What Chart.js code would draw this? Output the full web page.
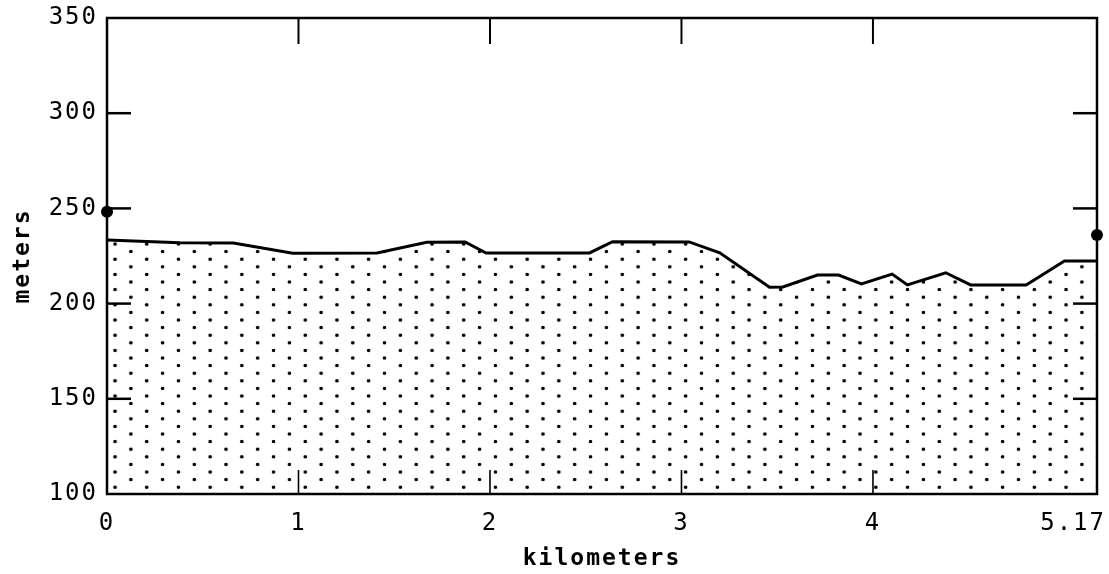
<!DOCTYPE html>
<html><head><meta charset="utf-8">
<script src="https://cdn.jsdelivr.net/npm/chart.js@4/dist/chart.umd.min.js"></script>
<style>html,body{margin:0;padding:0;background:#fff;}#wrap{width:1109px;height:574px;position:relative;background:#fff}</style>
</head><body><div id="wrap"><canvas id="c" width="1109" height="574"></canvas></div>
<script>
// ---- data ----
const profileKm = [0, 0.38, 0.66, 0.97, 1.41, 1.67, 1.87, 1.98, 2.52, 2.64, 3.04, 3.20, 3.46, 3.53, 3.71, 3.82, 3.94, 4.10, 4.18, 4.38, 4.51, 4.80, 5.00, 5.17];
const profileM  = [233.4, 232.0, 231.8, 226.4, 226.6, 232.2, 232.4, 226.6, 226.6, 232.5, 232.4, 226.7, 208.6, 208.7, 215.0, 215.0, 210.3, 215.5, 209.8, 216.2, 209.8, 209.8, 222.4, 222.4];
const markerKm = [0, 5.17];
const markerM  = [248.3, 236.0];
const xTickValues = [0, 1, 2, 3, 4, 5.17];
const yTickValues = [100, 150, 200, 250, 300, 350];
const innerXTicks = [1, 2, 3, 4];
const innerYTicks = [150, 200, 250, 300];
const xTitle = 'kilometers';
const yTitle = 'meters';

const canvas = document.getElementById('c');
const ctx = canvas.getContext('2d');

function makeStipple(c2d){
  const tw = 40, th = 20;
  const t = document.createElement('canvas'); t.width = tw; t.height = th;
  const g = t.getContext('2d'); g.fillStyle = '#000';
  [[10,5],[30,15]].forEach(([x,y]) => { g.beginPath(); g.arc(x, y, 2.3, 0, Math.PI*2); g.fill(); });
  const p = c2d.createPattern(t, 'repeat');
  p.setTransform(new DOMMatrix().translate(12, -3).scale(31.7/tw, 15.2/th));
  return p;
}
const stipple = makeStipple(ctx);

const spacingPlugin = {
  id: 'spacing',
  beforeDraw(chart){
    Object.values(chart.scales).forEach(s => {
      if (s._wrappedLS) return; s._wrappedLS = true;
      const dl = s.drawLabels.bind(s), dt = s.drawTitle.bind(s), cl = s._computeLabelItems.bind(s);
      s.drawLabels = function(a){ const c = this.ctx; c.save(); c.letterSpacing = '2px'; dl(a); c.restore(); };
      s.drawTitle = function(a){ const c = this.ctx; c.save(); c.letterSpacing = '2px'; dt(a); c.restore(); };
      if (s.axis === 'x') {
        s._computeLabelItems = function(a){
          const items = cl(a);
          const last = items[items.length - 1];
          if (last) { last.options.textAlign = 'right'; last.options.translation[0] += 9; }
          return items;
        };
      }
    });
  }
};

const framePlugin = {
  id: 'frame',
  afterDraw(chart){
    const {left, right, top, bottom} = chart.chartArea;
    const c = chart.ctx;
    const xs = chart.scales.x, ys = chart.scales.y;
    c.save();
    c.strokeStyle = '#000';
    c.lineCap = 'butt';
    c.lineWidth = 2.5;
    c.strokeRect(left, top, right - left, bottom - top);
    const ln = (x1,y1,x2,y2,w) => { c.lineWidth = w; c.beginPath(); c.moveTo(x1,y1); c.lineTo(x2,y2); c.stroke(); };
    innerYTicks.forEach(v => { const y = ys.getPixelForValue(v); ln(left, y, left + 24, y, 2.5); ln(right, y, right - 24, y, 2.5); });
    innerXTicks.forEach(v => { const x = xs.getPixelForValue(v); ln(x, top, x, top + 26, 2); ln(x, bottom, x, bottom - 24, 1.6); });
    c.restore();
  }
};

const tickFont = {family: 'DejaVu Sans Mono', size: 24, weight: 'normal'};
const titleFont = {family: 'DejaVu Sans Mono', size: 23, weight: 'bold'};

new Chart(ctx, {
  type: 'line',
  data: {
    datasets: [
      {
        data: profileKm.map((x, i) => ({x, y: profileM[i]})),
        borderColor: '#000', borderWidth: 3, backgroundColor: stipple,
        fill: 'start', pointRadius: 0, tension: 0, order: 2
      },
      {
        data: markerKm.map((x, i) => ({x, y: markerM[i]})),
        showLine: false, pointRadius: 6, pointBackgroundColor: '#000', pointBorderColor: '#000',
        pointBorderWidth: 0, clip: false, order: 1
      }
    ]
  },
  options: {
    responsive: false, animation: false, devicePixelRatio: 1,
    layout: {padding: {left: 0, right: 12, top: 18, bottom: 0}},
    plugins: {legend: {display: false}, tooltip: {enabled: false}},
    scales: {
      x: {
        type: 'linear', min: 0, max: 5.17,
        afterBuildTicks: s => { s.ticks = xTickValues.map(v => ({value: v})); },
        afterFit: s => { s.height = 80; s.paddingLeft = 0; s.paddingRight = 0; },
        grid: {display: false}, border: {display: false},
        ticks: {font: tickFont, color: '#000', padding: 7, maxRotation: 0, autoSkip: false, callback: v => String(v)},
        title: {display: true, text: xTitle, color: '#000', font: titleFont, padding: {top: 0, bottom: 1}}
      },
      y: {
        type: 'linear', min: 100, max: 350,
        afterBuildTicks: s => { s.ticks = yTickValues.map(v => ({value: v})); },
        afterFit: s => { s.width = 107; s.paddingTop = 0; s.paddingBottom = 0; },
        grid: {display: false}, border: {display: false},
        ticks: {font: tickFont, color: '#000', padding: 1, callback: v => String(v)},
        title: {display: true, text: yTitle, color: '#000', font: titleFont, padding: {top: 9, bottom: 0}}
      }
    }
  },
  plugins: [spacingPlugin, framePlugin]
});
</script>
</body></html>
